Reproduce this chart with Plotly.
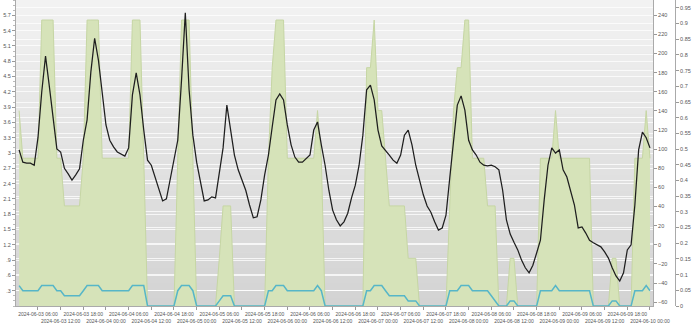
import pandas as pd
import plotly.graph_objects as go

# ---- data (hourly, 2024-06-03 01:00 .. 2024-06-10 00:00) ----
times = pd.date_range("2024-06-03 01:00", periods=168, freq="h")

black_vals = [
    3.06, 2.82, 2.80, 2.80, 2.76, 3.30, 4.20, 4.90, 4.31, 3.69,
    3.08, 3.02, 2.70, 2.59, 2.47, 2.57, 2.69, 3.25, 3.65, 4.59,
    5.25, 4.82, 4.24, 3.55, 3.25, 3.12, 3.02, 2.98, 2.94, 3.10,
    4.14, 4.57, 4.14, 3.45, 2.86, 2.76, 2.53, 2.27, 2.06, 2.10,
    2.47, 2.86, 3.25, 4.43, 5.75, 4.24, 3.35, 2.82, 2.47, 2.06,
    2.08, 2.14, 2.12, 2.63, 3.10, 3.94, 3.45, 2.96, 2.67, 2.47,
    2.27, 1.98, 1.73, 1.75, 2.08, 2.57, 2.96, 3.51, 4.04, 4.16,
    4.04, 3.55, 3.16, 2.92, 2.82, 2.82, 2.90, 2.96, 3.45, 3.61,
    3.16, 2.76, 2.27, 1.88, 1.69, 1.57, 1.65, 1.82, 2.12, 2.37,
    2.76, 3.35, 4.24, 4.33, 4.04, 3.45, 3.14, 3.06, 2.96, 2.86,
    2.80, 2.96, 3.35, 3.45, 3.16, 2.76, 2.47, 2.18, 1.96, 1.84,
    1.65, 1.49, 1.53, 1.78, 2.51, 3.25, 3.94, 4.12, 3.84, 3.25,
    3.06, 2.96, 2.82, 2.76, 2.75, 2.76, 2.73, 2.67, 2.27, 1.69,
    1.41, 1.25, 1.10, 0.90, 0.75, 0.65, 0.80, 1.04, 1.29, 2.08,
    2.76, 3.10, 3.00, 3.06, 2.67, 2.53, 2.27, 1.98, 1.53, 1.55,
    1.43, 1.29, 1.24, 1.20, 1.16, 1.06, 0.94, 0.75, 0.59, 0.49,
    0.65, 1.10, 1.20, 1.98, 3.06, 3.41, 3.30, 3.10,
]

green_vals = [
    4.1, 3.1, 3.1, 3.1, 3.1, 3.1, 6, 6, 6, 6,
    3.1, 3.1, 2.1, 2.1, 2.1, 2.1, 2.1, 3.1, 6, 6,
    6, 6, 3.1, 3.1, 3.1, 3.1, 3.1, 3.1, 3.1, 3.1,
    6, 6, 6, 3.1, 0, 0, 0, 0, 0, 0,
    0, 0, 3.1, 6, 6, 6, 3.1, 0, 0, 0,
    0, 0, 0, 1, 2.1, 2.1, 2.1, 0, 0, 0,
    0, 0, 0, 0, 0, 0, 3.1, 5, 6, 6,
    6, 3.1, 3.1, 3.1, 3.1, 3.1, 3.1, 3.1, 3.1, 4.1,
    3.1, 0, 0, 0, 0, 0, 0, 0, 0, 0,
    0, 0, 5, 5, 6, 4.1, 4.1, 3.1, 2.1, 2.1,
    2.1, 2.1, 2.1, 1, 1, 1, 0, 0, 0, 0,
    0, 0, 0, 0, 2.1, 4.1, 5, 5, 6, 6,
    3.1, 3.1, 3.1, 3.1, 2.1, 2.1, 2.1, 0, 0, 0,
    1, 1, 0, 0, 0, 0, 0, 0, 3.1, 3.1,
    3.1, 3.1, 4.1, 3.1, 3.1, 3.1, 3.1, 3.1, 3.1, 3.1,
    3.1, 3.1, 0, 0, 0, 0, 0, 1, 1, 0,
    0, 0, 0, 3.1, 3.1, 3.1, 4.1, 3.1,
]

cyan_vals = [
    0.4, 0.3, 0.3, 0.3, 0.3, 0.3, 0.4, 0.4, 0.4, 0.4,
    0.3, 0.3, 0.2, 0.2, 0.2, 0.2, 0.2, 0.3, 0.4, 0.4,
    0.4, 0.4, 0.3, 0.3, 0.3, 0.3, 0.3, 0.3, 0.3, 0.3,
    0.4, 0.4, 0.4, 0.4, 0, 0, 0, 0, 0, 0,
    0, 0, 0.3, 0.4, 0.4, 0.4, 0.3, 0, 0, 0,
    0, 0, 0, 0.1, 0.2, 0.2, 0.2, 0, 0, 0,
    0, 0, 0, 0, 0, 0, 0.3, 0.3, 0.4, 0.4,
    0.4, 0.3, 0.3, 0.3, 0.3, 0.3, 0.3, 0.3, 0.3, 0.4,
    0.3, 0, 0, 0, 0, 0, 0, 0, 0, 0,
    0, 0, 0.3, 0.3, 0.4, 0.4, 0.4, 0.3, 0.2, 0.2,
    0.2, 0.2, 0.2, 0.1, 0.1, 0.1, 0, 0, 0, 0,
    0, 0, 0, 0, 0.3, 0.3, 0.3, 0.4, 0.4, 0.4,
    0.3, 0.3, 0.3, 0.3, 0.3, 0.2, 0.1, 0, 0, 0,
    0.1, 0.1, 0, 0, 0, 0, 0, 0, 0.3, 0.3,
    0.3, 0.3, 0.4, 0.3, 0.3, 0.3, 0.3, 0.3, 0.3, 0.3,
    0.3, 0.3, 0, 0, 0, 0, 0, 0.1, 0.1, 0,
    0, 0, 0, 0.3, 0.3, 0.3, 0.4, 0.3,
]

left_ticks = [0.3 * i for i in range(1, 20)]
left_labels = [".3", ".6", ".9", "1.2", "1.5", "1.8", "2.1", "2.4", "2.7", "3",
               "3.3", "3.6", "3.9", "4.2", "4.5", "4.8", "5.1", "5.4", "5.7"]
mid_ticks = list(range(-60, 241, 20))
right_ticks = [round(0.05 * i, 2) for i in range(0, 20)]
right_labels = ["0"] + [("%g" % v) for v in right_ticks[1:]]

x_ticks = pd.date_range("2024-06-03 06:00", "2024-06-10 00:00", freq="6h")
x_labels = [(t.strftime("%Y-%m-%d %H:%M") if i % 2 == 0 else "<br>" + t.strftime("%Y-%m-%d %H:%M"))
            for i, t in enumerate(x_ticks)]

FONT = "Liberation Sans"
TICKC = "#555555"
GRID = "rgba(255,255,255,0.75)"

fig = go.Figure()
# base subplot: green area (drawn first, below the lines)
fig.add_trace(go.Scatter(x=times, y=green_vals, yaxis="y", mode="lines",
                         fill="tozeroy", fillcolor="#d6e3b9",
                         line=dict(color="#c6d6a4", width=1), hoverinfo="skip"))
# left visible axis: black and cyan lines
fig.add_trace(go.Scatter(x=times, y=black_vals, yaxis="y2", mode="lines",
                         line=dict(color="#1e1e1e", width=1.25)))
fig.add_trace(go.Scatter(x=times, y=cyan_vals, yaxis="y2", mode="lines",
                         line=dict(color="#56b6c8", width=1.5)))
# empty traces so the two right-hand axes get drawn
fig.add_trace(go.Scatter(x=[None], y=[None], yaxis="y3", mode="lines", hoverinfo="skip"))
fig.add_trace(go.Scatter(x=[None], y=[None], yaxis="y4", mode="lines", hoverinfo="skip"))

# gradient background
shapes = []
N = 40
top = (242, 242, 242)
bot = (211, 211, 211)
for i in range(N):
    f = (i + 0.5) / N
    c = tuple(int(round(top[k] + (bot[k] - top[k]) * f)) for k in range(3))
    shapes.append(dict(type="rect", xref="x domain", yref="y domain",
                       x0=0, x1=1, y0=1 - (i + 1) / N, y1=1 - i / N + 0.001,
                       fillcolor="rgb(%d,%d,%d)" % c, line=dict(width=0), layer="below"))

tick_common = dict(ticks="outside", ticklen=3, tickcolor="#999999",
                   showline=True, linecolor="#aaaaaa", linewidth=1,
                   zeroline=False, tickfont=dict(size=5.5, family=FONT, color=TICKC))

fig.update_layout(
    width=693, height=325,
    margin=dict(l=16, r=18, t=0, b=19),
    paper_bgcolor="white", plot_bgcolor="#e0e0e0",
    showlegend=False,
    font=dict(family=FONT, size=5.5, color=TICKC),
    shapes=shapes,
    xaxis=dict(type="date", domain=[0, 637 / 659],
               range=["2024-06-03 00:11", "2024-06-10 00:48"],
               tickvals=x_ticks, ticktext=x_labels, tickangle=0,
               tickfont=dict(size=5, family=FONT, color=TICKC),
               ticks="outside", ticklen=3, tickcolor="#999999",
               showline=True, linecolor="#aaaaaa", linewidth=1,
               showgrid=False, zeroline=False),
    yaxis=dict(range=[0, 6.42], visible=False, showgrid=False),
    yaxis2=dict(range=[0, 6], overlaying="y", side="left", anchor="x",
                tickvals=left_ticks, ticktext=left_labels,
                minor=dict(dtick=0.1, ticks="outside", ticklen=2, tickcolor="#bbbbbb", showgrid=False),
                showgrid=True, gridcolor=GRID, gridwidth=1, **tick_common),
    yaxis3=dict(range=[-64, 256], overlaying="y", side="right", anchor="x",
                tickvals=mid_ticks, showgrid=False, **tick_common),
    yaxis4=dict(range=[0, 0.975], overlaying="y", side="right", anchor="free", position=1,
                tickvals=right_ticks, ticktext=right_labels,
                showgrid=True, gridcolor=GRID, gridwidth=1, **tick_common),
)

fig.write_html("out.html")
